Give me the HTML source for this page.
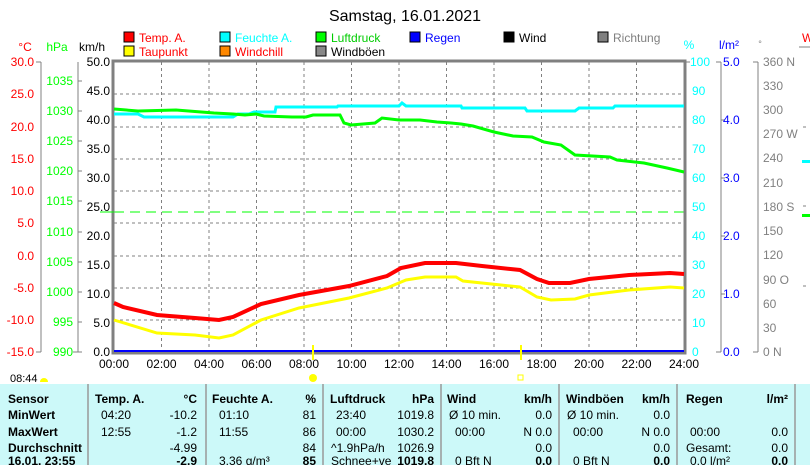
<!DOCTYPE html>
<html><head><meta charset="utf-8"><style>
body{margin:0;background:#fff;}
svg{display:block;font-family:"Liberation Sans",sans-serif;}
</style></head><body>
<svg width="810" height="465" viewBox="0 0 810 465" xmlns="http://www.w3.org/2000/svg">
<rect width="810" height="465" fill="#fff"/>
<text x="405" y="21" font-size="16" text-anchor="middle">Samstag, 16.01.2021</text>
<!-- legend -->
<g font-size="12">
<rect x="124" y="32" width="10" height="10" fill="#f00" stroke="#000"/><text x="139" y="42" fill="#f00">Temp. A.</text>
<rect x="124" y="46" width="10" height="10" fill="#ff0" stroke="#000"/><text x="139" y="56" fill="#f00">Taupunkt</text>
<rect x="220" y="32" width="10" height="10" fill="#0ff" stroke="#000"/><text x="235" y="42" fill="#0ff">Feuchte A.</text>
<rect x="220" y="46" width="10" height="10" fill="#f80" stroke="#000"/><text x="235" y="56" fill="#f00">Windchill</text>
<rect x="316" y="32" width="10" height="10" fill="#0f0" stroke="#000"/><text x="331" y="42" fill="#0c0">Luftdruck</text>
<rect x="316" y="46" width="10" height="10" fill="#888" stroke="#000"/><text x="331" y="56" fill="#000">Windböen</text>
<rect x="410" y="32" width="10" height="10" fill="#00f" stroke="#000"/><text x="425" y="42" fill="#00f">Regen</text>
<rect x="504" y="32" width="10" height="10" fill="#000" stroke="#000"/><text x="519" y="42" fill="#000">Wind</text>
<rect x="598" y="32" width="10" height="10" fill="#808080" stroke="#000"/><text x="613" y="42" fill="#808080">Richtung</text>
</g>
<!-- axis headers -->
<g font-size="12">
<text x="25" y="51" fill="#f00" text-anchor="middle">°C</text>
<text x="57" y="51" fill="#0f0" text-anchor="middle">hPa</text>
<text x="92" y="51" fill="#000" text-anchor="middle">km/h</text>
<text x="689" y="49" fill="#0ff" text-anchor="middle">%</text>
<text x="729" y="49" fill="#00f" text-anchor="middle">l/m²</text>
<text x="760" y="47" fill="#808080" text-anchor="middle" font-size="9">°</text>
<text x="802" y="42" fill="#f00">W</text>
</g>
<!-- grid -->
<g stroke="#808080" stroke-dasharray="3,3" stroke-width="1">
<line x1="114" y1="94" x2="684" y2="94"/><line x1="114" y1="127" x2="684" y2="127"/><line x1="114" y1="159" x2="684" y2="159"/><line x1="114" y1="191" x2="684" y2="191"/><line x1="114" y1="223" x2="684" y2="223"/><line x1="114" y1="256" x2="684" y2="256"/><line x1="114" y1="288" x2="684" y2="288"/><line x1="114" y1="320" x2="684" y2="320"/>
<line x1="161.5" y1="62" x2="161.5" y2="352"/><line x1="209" y1="62" x2="209" y2="352"/><line x1="256.5" y1="62" x2="256.5" y2="352"/><line x1="304" y1="62" x2="304" y2="352"/><line x1="351.5" y1="62" x2="351.5" y2="352"/><line x1="399" y1="62" x2="399" y2="352"/><line x1="446.5" y1="62" x2="446.5" y2="352"/><line x1="494" y1="62" x2="494" y2="352"/><line x1="541.5" y1="62" x2="541.5" y2="352"/><line x1="589" y1="62" x2="589" y2="352"/><line x1="636.5" y1="62" x2="636.5" y2="352"/>
</g>
<line x1="114" y1="212" x2="684" y2="212" stroke="#0f0" stroke-dasharray="10,6" stroke-width="1"/>
<!-- plot frame -->
<rect x="113" y="61" width="572" height="292" fill="none" stroke="#808080" stroke-width="3"/>
<!-- left axes -->
<g stroke="#808080" fill="none">
<line x1="41" y1="62" x2="41" y2="352"/><line x1="78" y1="62" x2="78" y2="352"/>
</g>
<g font-size="12" fill="#f00" text-anchor="end">
<text x="34" y="66">30.0</text><text x="34" y="98">25.0</text><text x="34" y="131">20.0</text><text x="34" y="163">15.0</text><text x="34" y="195">10.0</text><text x="34" y="227">5.0</text><text x="34" y="260">0.0</text><text x="34" y="292">-5.0</text><text x="34" y="324">-10.0</text><text x="34" y="356">-15.0</text>
</g>
<g stroke="#808080"><line x1="36" y1="62" x2="41" y2="62"/><line x1="36" y1="352" x2="41" y2="352"/><line x1="78" y1="81" x2="82" y2="81"/><line x1="78" y1="111" x2="82" y2="111"/><line x1="78" y1="141" x2="82" y2="141"/><line x1="78" y1="171" x2="82" y2="171"/><line x1="78" y1="201" x2="82" y2="201"/><line x1="78" y1="232" x2="82" y2="232"/><line x1="78" y1="262" x2="82" y2="262"/><line x1="78" y1="292" x2="82" y2="292"/><line x1="78" y1="322" x2="82" y2="322"/><line x1="73" y1="352" x2="82" y2="352"/></g>
<g font-size="12" fill="#0f0" text-anchor="end">
<text x="73" y="85">1035</text><text x="73" y="115">1030</text><text x="73" y="145">1025</text><text x="73" y="175">1020</text><text x="73" y="205">1015</text><text x="73" y="236">1010</text><text x="73" y="266">1005</text><text x="73" y="296">1000</text><text x="73" y="326">995</text><text x="73" y="356">990</text>
</g>
<g font-size="12" fill="#000" text-anchor="end">
<text x="110" y="66">50.0</text><text x="110" y="95">45.0</text><text x="110" y="124">40.0</text><text x="110" y="153">35.0</text><text x="110" y="182">30.0</text><text x="110" y="211">25.0</text><text x="110" y="240">20.0</text><text x="110" y="269">15.0</text><text x="110" y="298">10.0</text><text x="110" y="327">5.0</text><text x="110" y="356">0.0</text>
</g>
<line x1="100" y1="212" x2="114" y2="212" stroke="#0f0"/>
<!-- right axes -->
<g stroke="#808080"><line x1="721" y1="62" x2="721" y2="352"/><line x1="758" y1="62" x2="758" y2="352"/>
<line x1="684" y1="62" x2="690" y2="62"/><line x1="716" y1="62" x2="721" y2="62"/><line x1="716" y1="352" x2="721" y2="352"/><line x1="753" y1="62" x2="758" y2="62"/><line x1="753" y1="352" x2="758" y2="352"/>
<line x1="721" y1="120" x2="725" y2="120"/><line x1="721" y1="178" x2="725" y2="178"/><line x1="721" y1="236" x2="725" y2="236"/><line x1="721" y1="294" x2="725" y2="294"/>
<line x1="799" y1="47" x2="810" y2="47"/><line x1="803" y1="127" x2="806" y2="127"/><line x1="803" y1="206" x2="806" y2="206"/><line x1="803" y1="286" x2="806" y2="286"/>
</g>
<rect x="802" y="160" width="8" height="3" fill="#0ff"/><rect x="802" y="214" width="8" height="3" fill="#0f0"/>
<g font-size="12" fill="#0ff">
<text x="690" y="66">100</text><text x="692" y="95">90</text><text x="692" y="124">80</text><text x="692" y="153">70</text><text x="692" y="182">60</text><text x="692" y="211">50</text><text x="692" y="240">40</text><text x="692" y="269">30</text><text x="692" y="298">20</text><text x="692" y="327">10</text><text x="692" y="356">0</text>
</g>
<g font-size="12" fill="#00f">
<text x="723" y="66">5.0</text><text x="723" y="124">4.0</text><text x="723" y="182">3.0</text><text x="723" y="240">2.0</text><text x="723" y="298">1.0</text><text x="723" y="356">0.0</text>
</g>
<g font-size="12" fill="#808080">
<text x="763" y="66">360 N</text><text x="763" y="90">330</text><text x="763" y="114">300</text><text x="763" y="138">270 W</text><text x="763" y="162">240</text><text x="763" y="187">210</text><text x="763" y="211">180 S</text><text x="763" y="235">150</text><text x="763" y="259">120</text><text x="763" y="284">90  O</text><text x="763" y="308">60</text><text x="763" y="332">30</text><text x="763" y="356">0    N</text>
</g>
<!-- x labels -->
<g font-size="12" text-anchor="middle">
<text x="114" y="368">00:00</text><text x="161.5" y="368">02:00</text><text x="209" y="368">04:00</text><text x="256.5" y="368">06:00</text><text x="304" y="368">08:00</text><text x="351.5" y="368">10:00</text><text x="399" y="368">12:00</text><text x="446.5" y="368">14:00</text><text x="494" y="368">16:00</text><text x="541.5" y="368">18:00</text><text x="589" y="368">20:00</text><text x="636.5" y="368">22:00</text><text x="684" y="368">24:00</text>
</g>
<!-- series -->
<line x1="114" y1="351" x2="684" y2="351" stroke="#00f" stroke-width="2"/>
<polyline fill="none" stroke="#0ff" stroke-width="3" points="114,114 138,114 144,117 233,117 238,114 249,114 254,112 275,112 276,107 337,107 338,106 399,106 402,103 406,106 461,106 462,108 525,108 527,111 575,111 579,108 613,108 615,106 684,106"/>
<polyline fill="none" stroke="#0f0" stroke-width="3" points="114,109 138,111 176,110 214,113 233,114 245,115 256,114 264,116 292,117 306,117 313,115 340,115 344,123 351,125 375,123 382,118 399,120 420,120 437,122 451,123 461,124 473,126 494,132 513,136 532,137 544,142 561,145 575,155 610,157 617,160 644,163 667,168 684,172"/>
<polyline fill="none" stroke="#ff0" stroke-width="3" points="114,320 157,333 195,335 219,338 233,335 261,320 299,308 349,298 387,288 406,280 425,277 456,277 463,281 501,285 520,287 537,297 551,300 575,299 589,295 629,290 670,287 684,288"/>
<polyline fill="none" stroke="#f00" stroke-width="4" points="114,303 123,307 157,315 195,318 219,320 233,317 261,304 299,295 349,286 387,276 401,268 425,263 456,263 482,266 520,270 537,279 549,283 570,283 589,279 629,275 670,273 684,274"/>
<!-- sun/moon -->
<line x1="313" y1="345" x2="313" y2="360" stroke="#ff0" stroke-width="2"/>
<circle cx="313" cy="378" r="4" fill="#ff0"/>
<line x1="521" y1="345" x2="521" y2="360" stroke="#ff0" stroke-width="2"/>
<rect x="518" y="375" width="5" height="5" fill="none" stroke="#ff0"/>
<text x="10" y="382" font-size="11">08:44</text>
<path d="M40,382 a4,4 0 0 1 8,0 z" fill="#ff0"/>
<!-- table -->
<rect x="0" y="384" width="810" height="81" fill="#ccf9f9"/>
<g stroke="#999" stroke-width="1.5">
<line x1="88" y1="384" x2="88" y2="465"/><line x1="206" y1="384" x2="206" y2="465"/><line x1="323" y1="384" x2="323" y2="465"/><line x1="441" y1="384" x2="441" y2="465"/><line x1="559" y1="384" x2="559" y2="465"/><line x1="677" y1="384" x2="677" y2="465"/><line x1="795" y1="384" x2="795" y2="465"/>
</g>
<g font-size="12" font-weight="bold">
<text x="8" y="403">Sensor</text><text x="8" y="419">MinWert</text><text x="8" y="436">MaxWert</text><text x="8" y="452">Durchschnitt</text><text x="8" y="465">16.01. 23:55</text>
<text x="95" y="403">Temp. A.</text><text x="197" y="403" text-anchor="end">°C</text>
<text x="212" y="403">Feuchte A.</text><text x="316" y="403" text-anchor="end">%</text>
<text x="330" y="403">Luftdruck</text><text x="434" y="403" text-anchor="end">hPa</text>
<text x="447" y="403">Wind</text><text x="552" y="403" text-anchor="end">km/h</text>
<text x="566" y="403">Windböen</text><text x="670" y="403" text-anchor="end">km/h</text>
<text x="686" y="403">Regen</text><text x="788" y="403" text-anchor="end">l/m²</text>
<text x="197" y="465" text-anchor="end">-2.9</text><text x="316" y="465" text-anchor="end">85</text><text x="434" y="465" text-anchor="end">1019.8</text><text x="552" y="465" text-anchor="end">0.0</text><text x="670" y="465" text-anchor="end">0.0</text><text x="788" y="465" text-anchor="end">0.0</text>
</g>
<g font-size="12">
<text x="101" y="419">04:20</text><text x="197" y="419" text-anchor="end">-10.2</text>
<text x="219" y="419">01:10</text><text x="316" y="419" text-anchor="end">81</text>
<text x="336" y="419">23:40</text><text x="434" y="419" text-anchor="end">1019.8</text>
<text x="449" y="419">Ø 10 min.</text><text x="552" y="419" text-anchor="end">0.0</text>
<text x="567" y="419">Ø 10 min.</text><text x="670" y="419" text-anchor="end">0.0</text>
<text x="101" y="436">12:55</text><text x="197" y="436" text-anchor="end">-1.2</text>
<text x="219" y="436">11:55</text><text x="316" y="436" text-anchor="end">86</text>
<text x="336" y="436">00:00</text><text x="434" y="436" text-anchor="end">1030.2</text>
<text x="455" y="436">00:00</text><text x="552" y="436" text-anchor="end">N 0.0</text>
<text x="573" y="436">00:00</text><text x="670" y="436" text-anchor="end">N 0.0</text>
<text x="690" y="436">00:00</text><text x="788" y="436" text-anchor="end">0.0</text>
<text x="197" y="452" text-anchor="end">-4.99</text><text x="316" y="452" text-anchor="end">84</text>
<text x="331" y="452">^1.9hPa/h</text><text x="434" y="452" text-anchor="end">1026.9</text>
<text x="552" y="452" text-anchor="end">0.0</text><text x="670" y="452" text-anchor="end">0.0</text>
<text x="686" y="452">Gesamt:</text><text x="788" y="452" text-anchor="end">0.0</text>
<text x="219" y="465">3.36 g/m³</text><text x="331" y="465">Schnee+ve</text>
<text x="455" y="465">0 Bft N</text><text x="573" y="465">0 Bft N</text><text x="690" y="465">0.0 l/m²</text>
</g>
</svg>
</body></html>
